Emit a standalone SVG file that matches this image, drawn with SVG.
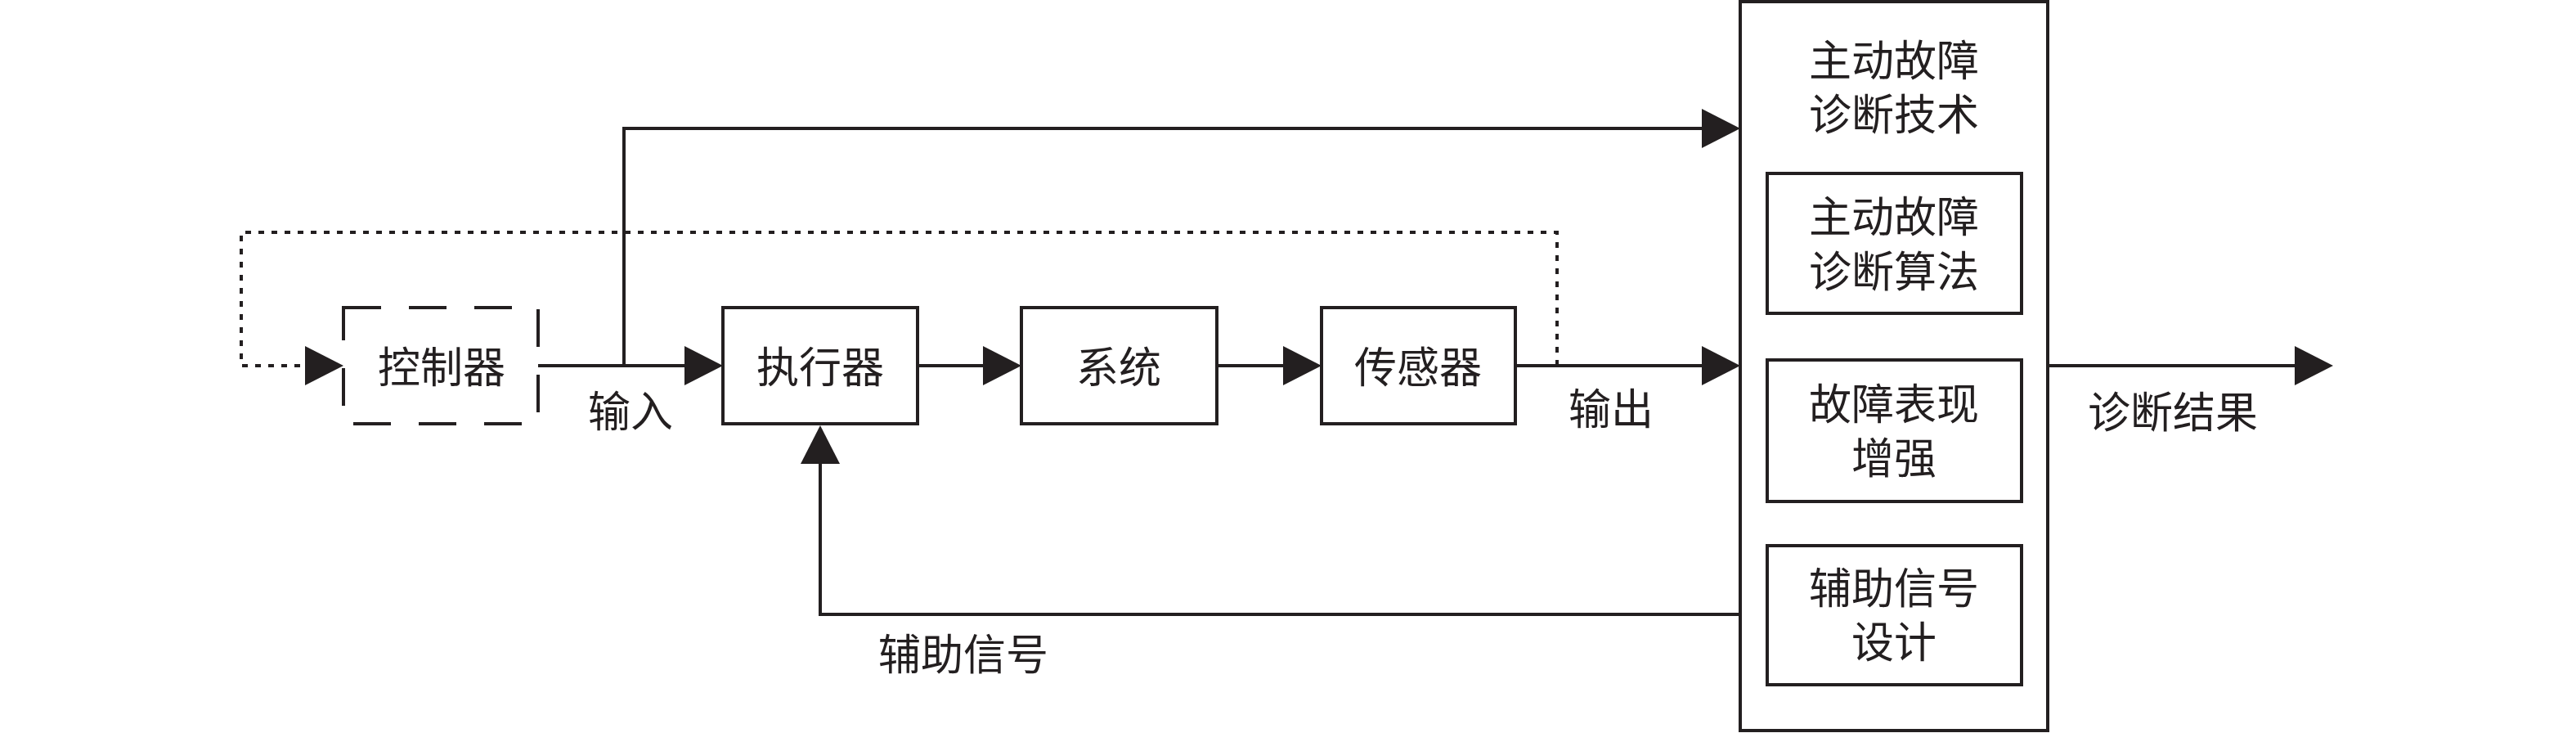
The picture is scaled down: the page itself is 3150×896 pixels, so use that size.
<svg xmlns="http://www.w3.org/2000/svg" width="3150" height="896" viewBox="0 0 3150 896">
<style>
.box{fill:#fff;stroke:#231f20;stroke-width:4}
.dash{stroke-dasharray:46 34}
.ln{fill:none;stroke:#231f20;stroke-width:4}
.dot{fill:none;stroke:#231f20;stroke-width:4;stroke-dasharray:7 9}
text{font-family:"Liberation Sans","Noto Sans CJK SC",sans-serif;font-size:52px;fill:#231f20;text-anchor:middle}
</style>
<defs>
<marker id="ah" markerUnits="userSpaceOnUse" markerWidth="48" markerHeight="50" refX="0" refY="24" orient="auto" viewBox="0 0 48 48">
<path d="M0,0 L47,24 L0,48 Z" fill="#231f20"/>
</marker>
</defs>
<rect width="3150" height="896" fill="#fff"/>
<g id="connectors">
<polyline class="dot" points="1904,447 1904,284 295,284 295,447 373,447" marker-end="url(#ah)"/>
<line class="ln" x1="658" y1="447" x2="837" y2="447" marker-end="url(#ah)"/>
<polyline class="ln" points="763,447 763,157 2081,157" marker-end="url(#ah)"/>
<line class="ln" x1="1122" y1="447" x2="1202" y2="447" marker-end="url(#ah)"/>
<line class="ln" x1="1488" y1="447" x2="1569" y2="447" marker-end="url(#ah)"/>
<line class="ln" x1="1853" y1="447" x2="2081" y2="447" marker-end="url(#ah)"/>
<line class="ln" x1="2504" y1="447" x2="2806" y2="447" marker-end="url(#ah)"/>
<polyline class="ln" points="2161,751 1003,751 1003,567" marker-end="url(#ah)"/>
</g>
<g id="controller">
<rect class="box dash" x="420" y="376" width="238" height="142"/>
<text x="540" y="468">控制器</text>
</g>
<g id="actuator">
<rect class="box" x="884" y="376" width="238" height="142"/>
<text x="1003" y="468">执行器</text>
</g>
<g id="system">
<rect class="box" x="1249" y="376" width="239" height="142"/>
<text x="1368" y="468">系统</text>
</g>
<g id="sensor">
<rect class="box" x="1616" y="376" width="237" height="142"/>
<text x="1734" y="468">传感器</text>
</g>
<g id="label-input"><text x="771" y="522">输入</text></g>
<g id="label-output"><text x="1970" y="519">输出</text></g>
<g id="label-aux"><text x="1178" y="819">辅助信号</text></g>
<g id="label-result"><text x="2657" y="523">诊断结果</text></g>
<g id="afd">
<rect class="box" x="2128" y="2" width="376" height="891"/>
<text x="2316" y="93">主动故障<tspan x="2316" dy="66">诊断技术</tspan></text>
</g>
<g id="afd-algorithm">
<rect class="box" x="2161" y="212" width="311" height="171"/>
<text x="2316" y="284">主动故障<tspan x="2316" dy="67">诊断算法</tspan></text>
</g>
<g id="fault-enhance">
<rect class="box" x="2161" y="440" width="311" height="173"/>
<text x="2316" y="513">故障表现<tspan x="2316" dy="66">增强</tspan></text>
</g>
<g id="aux-design">
<rect class="box" x="2161" y="667" width="311" height="170"/>
<text x="2316" y="738">辅助信号<tspan x="2316" dy="66">设计</tspan></text>
</g>
</svg>
